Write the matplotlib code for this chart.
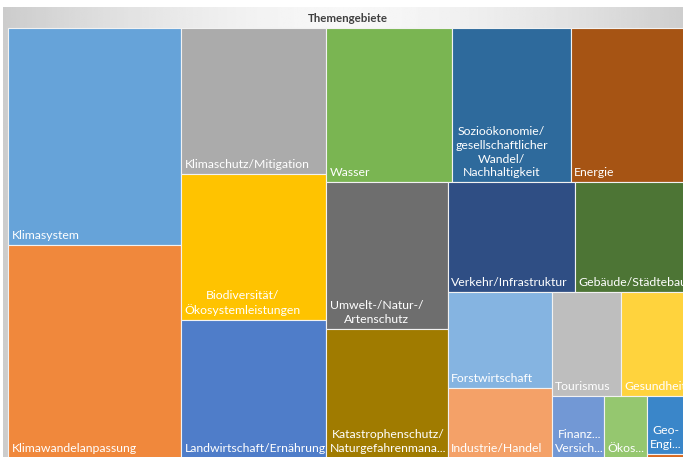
import numpy as np
import matplotlib
matplotlib.use("Agg")
import matplotlib.pyplot as plt
from matplotlib.patches import Rectangle

# Themengebiete, largest first (Excel treemap order)
categories = ["Klimasystem", "Klimawandelanpassung", "Klimaschutz/Mitigation",
              "Biodiversität/Ökosystemleistungen", "Landwirtschaft/Ernährung",
              "Wasser", "Sozioökonomie/gesellschaftlicher Wandel/Nachhaltigkeit",
              "Energie", "Umwelt-/Natur-/Artenschutz",
              "Katastrophenschutz/Naturgefahrenmanagement", "Verkehr/Infrastruktur",
              "Gebäude/Städtebau", "Forstwirtschaft", "Industrie/Handel",
              "Tourismus", "Gesundheit", "Finanzwirtschaft/Versicherungen",
              "Ökosystemleistungen", "Geo-Engineering", "Sonstiges"]
values = [183, 179, 103, 102.5, 97.5, 94.3, 89.4, 87.9, 86.5, 76.5,
          67.5, 60.1, 48.7, 35.5, 35.0, 34.0, 15.7, 13.0, 11.6, 0.9]
# labels as Excel shows them (wrapped / shortened)
labels = ["Klimasystem", "Klimawandelanpassung", "Klimaschutz/Mitigation",
          "Biodiversität/\nÖkosystemleistungen", "Landwirtschaft/Ernährung",
          "Wasser", "Sozioökonomie/\ngesellschaftlicher\nWandel/\nNachhaltigkeit",
          "Energie", "Umwelt-/Natur-/\nArtenschutz",
          "Katastrophenschutz/\nNaturgefahrenmana...", "Verkehr/Infrastruktur",
          "Gebäude/Städtebau", "Forstwirtschaft", "Industrie/Handel",
          "Tourismus", "Gesundheit", "Finanz...\nVersich...", "Ökos...",
          "Geo-\nEngi...", ""]
colors = ["#66A3D9", "#F0883C", "#ABABAB", "#FFC300", "#4F7DC9",
          "#7AB552", "#2E6A9C", "#A65414", "#6E6E6E", "#A07B00",
          "#2F4E84", "#4D7535", "#85B4E1", "#F4A168", "#BEBEBE",
          "#FFD33D", "#7298D5", "#95C76F", "#3A86C9", "#D9691F"]


def worst(row, side):
    s = sum(row)
    return max(max(side * side * r / (s * s), s * s / (side * side * r)) for r in row)


def squarify(vals, x, y, w, h):
    total = sum(vals)
    vals = [v * w * h / total for v in vals]
    rects = []
    i = 0
    while i < len(vals):
        side = min(w, h)
        row = [vals[i]]
        j = i + 1
        while j < len(vals) and worst(row + [vals[j]], side) <= worst(row, side):
            row.append(vals[j])
            j += 1
        s = sum(row)
        if w >= h:
            cw = s / h
            yy = y
            for r in row:
                rects.append((x, yy, cw, r / cw))
                yy += r / cw
            x += cw
            w -= cw
        else:
            rh = s / w
            xx = x
            for r in row:
                rects.append((xx, y, r / rh, rh))
                xx += r / rh
            y += rh
            h -= rh
        i = j
    return rects


fig = plt.figure(figsize=(6.83, 4.57), dpi=100)
ax = fig.add_axes([0, 0, 1, 1])
ax.set_xlim(0, 683)
ax.set_ylim(457, 0)
ax.axis("off")

# parent box with grey banner gradient
t = np.linspace(0, 1, 300)
g = 0.80 + 0.17 * (1 - np.abs(2 * t - 1) ** 1.6)
ax.imshow(np.tile(g, (2, 1)), cmap="gray", vmin=0, vmax=1, aspect="auto",
          extent=(3, 693, 470, 7), zorder=0, interpolation="bilinear")
ax.text(348, 18, "Themengebiete", ha="center", va="center", fontsize=8.3,
        fontweight="bold", color="#404040", family="Lato")

rects = squarify(values, 8, 28, 680, 430)
for (x, y, w, h), lab, c in zip(rects, labels, colors):
    ax.add_patch(Rectangle((x, y), w, h, facecolor=c, edgecolor="#F2F2F2",
                           linewidth=0.8, zorder=2))
    if lab and h > 14:
        ax.text(x + 3.5, y + h - 4, lab, ha="left", va="bottom",
                multialignment="center", fontsize=8.8, color="white",
                family="Lato", linespacing=1.3, zorder=3)

fig.savefig("out.png", dpi=100)
